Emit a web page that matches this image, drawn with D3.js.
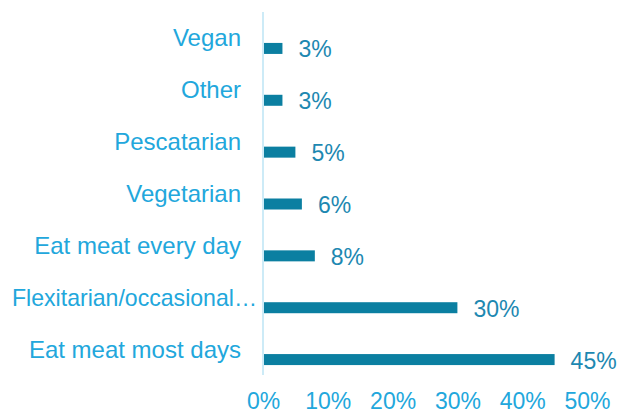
<!DOCTYPE html>
<html>
<head>
<meta charset="utf-8">
<script src="https://cdn.jsdelivr.net/npm/d3@7"></script>
<style>
  html, body { margin: 0; padding: 0; background: #ffffff; }
  svg { display: block; font-family: "Liberation Sans", Arial, sans-serif; }
</style>
</head>
<body>
<svg id="chart" width="620" height="414"></svg>
<script>
const categories = ["Vegan", "Other", "Pescatarian", "Vegetarian", "Eat meat every day", "Flexitarian/occasional…", "Eat meat most days"];
const values = [3, 3, 5, 6, 8, 30, 45];
const tickValues = [0, 10, 20, 30, 40, 50];

const svg = d3.select("#chart");
const x = d3.scaleLinear().domain([0, 50]).range([263, 587]);
const y = d3.scaleBand().domain(categories).range([12, 375]).paddingInner(0).paddingOuter(0);

const catColor = "#22a7dc";
const barColor = "#0b7fa1";
const valColor = "#1d88b1";
const axisColor = "#cdebf7";

// vertical axis line
svg.append("line")
  .attr("x1", x(0)).attr("x2", x(0))
  .attr("y1", y.range()[0]).attr("y2", y.range()[1])
  .attr("stroke", axisColor).attr("stroke-width", 2);

const barH = 11;
const barOffset = 10.5;
const data = categories.map((c, i) => ({ c, v: values[i] }));

svg.append("g").selectAll("rect").data(data).join("rect")
  .attr("x", x(0) + 1)
  .attr("y", d => y(d.c) + y.bandwidth() / 2 + barOffset - barH / 2)
  .attr("width", d => x(d.v) - x(0) - 1)
  .attr("height", barH)
  .attr("fill", barColor);

// value labels
svg.append("g").selectAll("text").data(data).join("text")
  .attr("x", d => x(d.v) + 16)
  .attr("y", d => y(d.c) + y.bandwidth() / 2 + barOffset + 1)
  .attr("dominant-baseline", "central")
  .attr("font-size", 23)
  .attr("fill", valColor)
  .text(d => d.v + "%");

// category labels
svg.append("g").selectAll("text").data(data).join("text")
  .each(function (d) {
    const t = d3.select(this);
    if (d.c.endsWith("…")) {
      t.attr("x", 12).attr("text-anchor", "start")
       .attr("textLength", 245).attr("lengthAdjust", "spacingAndGlyphs");
    } else {
      t.attr("x", 241).attr("text-anchor", "end");
    }
  })
  .attr("y", d => y(d.c) + y.bandwidth() / 2)
  .attr("dominant-baseline", "central")
  .attr("font-size", 24)
  .attr("fill", catColor)
  .text(d => d.c);

// x axis tick labels
const xAxis = d3.axisBottom(x).tickValues(tickValues).tickFormat(d => d + "%").tickSize(0).tickPadding(0);
const gx = svg.append("g").attr("transform", "translate(0,409)").call(xAxis);
gx.select(".domain").remove();
gx.selectAll("text")
  .attr("font-size", 23)
  .attr("font-family", "\"Liberation Sans\", Arial, sans-serif")
  .attr("fill", catColor)
  .attr("y", 0)
  .attr("dy", 0);
</script>
</body>
</html>
